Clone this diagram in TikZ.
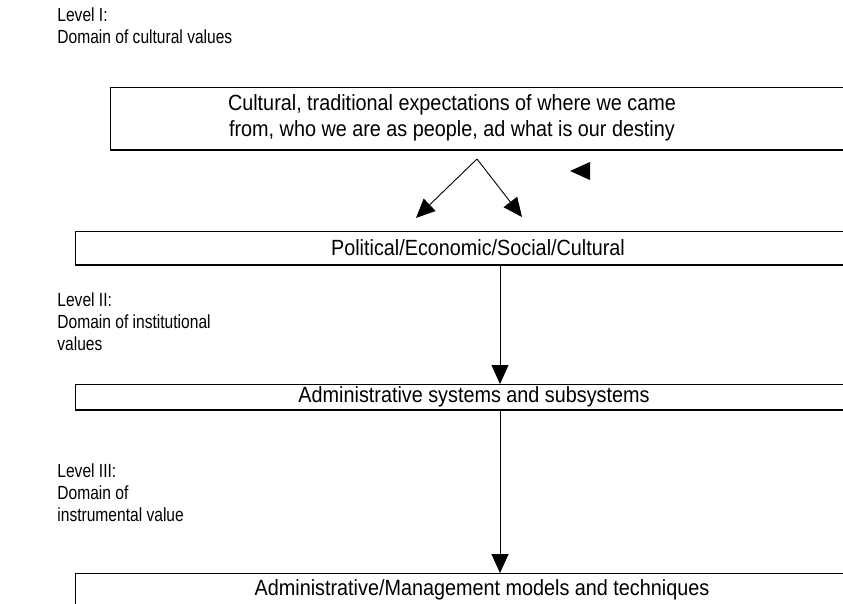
\documentclass[tikz,border=0pt]{standalone}
\usepackage{fontspec}
\setmainfont{Liberation Sans}
\newfontfamily\narrowfont[FakeStretch=0.82]{Liberation Sans}
\newfontfamily\boxfont[FakeStretch=0.9]{Liberation Sans}
\usetikzlibrary{arrows.meta}

\begin{document}
\begin{tikzpicture}[x=1pt,y=-1pt,thick,
    level/.style={anchor=west,align=left,inner sep=0pt,font=\narrowfont\fontsize{19}{22}\selectfont},
    boxtext/.style={inner sep=0pt,align=center,font=\boxfont\fontsize{22}{26}\selectfont},
    box/.style={draw,line width=0.9pt},
    flow/.style={-{Triangle[length=19pt,width=17pt]},line width=0.9pt}]
    \useasboundingbox (0,0) rectangle (843,604);
    \clip (0,0) rectangle (843,604);

    % level labels on the left
    \node[level] at (57,26) (lvl1) {Level I:\\Domain of cultural values};
    \node[level] at (57,322) (lvl2) {Level II:\\Domain of institutional\\values};
    \node[level] at (57,493) (lvl3) {Level III:\\Domain of\\instrumental value};

    % boxes (they run off the right side)
    \draw[box] (110,87) -- (860,87);
    \draw[box] (110,87) -- (110,150);
    \draw[line width=2.2pt] (110,150) -- (860,150);
    \draw[box] (75,231) rectangle (860,265);
    \draw[line width=2pt] (75,265) -- (860,265);
    \draw[box] (75,384) rectangle (860,410);
    \draw[line width=2pt] (75,410) -- (860,410);
    \draw[box] (75,573) rectangle (860,620);

    \node[boxtext] at (452,118) (cult) {Cultural, traditional expectations of where we came\\from, who we are as people, ad what is our destiny};
    \node[boxtext] at (478,248) (pol) {Political/Economic/Social/Cultural};
    \node[boxtext] at (474,397) (adm) {Administrative systems and subsystems};
    \node[boxtext] at (482,590) (mod) {Administrative/Management models and techniques};

    \coordinate (apex) at (477,159);
    \coordinate (tipl) at (416,218);
    \coordinate (tipr) at (522,217);
    \coordinate (polb) at (500,266);
    \coordinate (admt) at (500,384);
    \coordinate (admb) at (500,411);
    \coordinate (modt) at (500,573);

    \draw[flow] (apex) -- (tipl);
    \draw[flow] (apex) -- (tipr);
    \draw[flow] (polb) -- (admt);
    \draw[flow] (admb) -- (modt);

    % stray arrow head
    \fill (570,171) -- (590,162) -- (590,180) -- cycle;
\end{tikzpicture}
\end{document}
